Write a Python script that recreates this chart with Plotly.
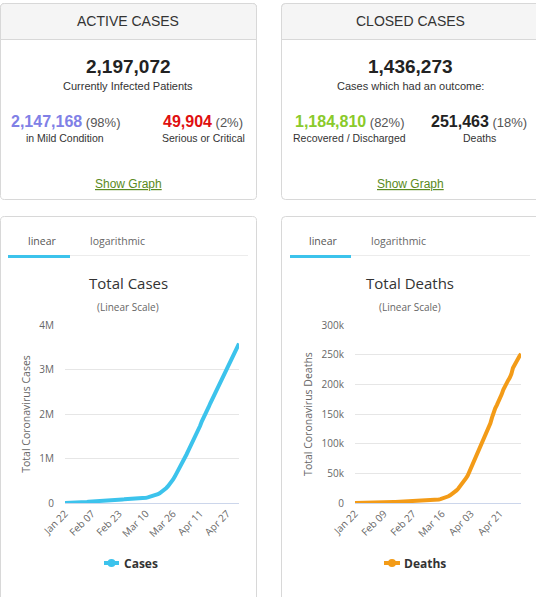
import pandas as pd
import plotly.graph_objects as go

W, H = 536, 597

# ---------------- data ----------------
dates = pd.date_range("2020-01-22", "2020-05-04", freq="D")

total_cases = [
    580, 845, 1317, 2015, 2800, 4581, 6058, 7813, 9823, 11950,
    14553, 17391, 20630, 24545, 28266, 31439, 34876, 37552, 40553, 43099,
    45134, 59287, 64438, 67100, 69197, 71329, 73332, 75184, 75700, 76677,
    77673, 78651, 79205, 80087, 80828, 81820, 83112, 84615, 86604, 88585,
    90443, 93016, 95314, 98425, 102050, 106099, 109991, 114381, 118948, 126214,
    134576, 145483, 156653, 169593, 182490, 198238, 218822, 244933, 275597, 305036,
    337489, 378287, 418045, 467653, 529591, 593291, 660693, 720117, 782365, 857487,
    932605, 1013157, 1095917, 1176060, 1249754, 1321481, 1396476, 1479804, 1565278, 1657526,
    1735650, 1834721, 1904838, 1976191, 2056054, 2152437, 2240190, 2317758, 2401378, 2472259,
    2549123, 2624068, 2708885, 2811193, 2896746, 2971475, 3041764, 3116398, 3193886, 3256846,
    3343777, 3427343, 3506729, 3583055,
]

total_deaths = [
    17, 18, 26, 42, 56, 82, 131, 133, 171, 213,
    259, 362, 426, 492, 564, 634, 719, 806, 906, 1013,
    1113, 1118, 1371, 1523, 1666, 1770, 1868, 2007, 2122, 2247,
    2251, 2458, 2469, 2629, 2708, 2770, 2814, 2872, 2941, 2996,
    3085, 3160, 3254, 3348, 3460, 3558, 3802, 3988, 4262, 4615,
    4720, 5404, 5819, 6440, 7126, 7905, 8733, 9867, 11299, 12973,
    14623, 16497, 18615, 21181, 23970, 27198, 30652, 33925, 37582, 42107,
    46809, 52983, 58787, 64606, 69374, 74565, 81865, 88338, 95455, 102525,
    108502, 114090, 119482, 125984, 134177, 143800, 153821, 159509, 165044, 169985,
    176583, 183066, 190858, 197159, 202846, 206544, 211167, 217153, 227638, 233388,
    238650, 243808, 247470, 251537,
]

cases_xtick_labels = ["Jan 22", "Feb 07", "Feb 23", "Mar 10", "Mar 26", "Apr 11", "Apr 27"]
deaths_xtick_labels = ["Jan 22", "Feb 09", "Feb 27", "Mar 16", "Apr 03", "Apr 21"]
cases_ytick_vals = [0, 1_000_000, 2_000_000, 3_000_000, 4_000_000]
cases_ytick_labels = ["0", "1M", "2M", "3M", "4M"]
deaths_ytick_vals = [0, 50_000, 100_000, 150_000, 200_000, 250_000, 300_000]
deaths_ytick_labels = ["0", "50k", "100k", "150k", "200k", "250k", "300k"]

active_total = "2,197,072"
mild_count, mild_pct = "2,147,168", "(98%)"
serious_count, serious_pct = "49,904", "(2%)"
closed_total = "1,436,273"
recovered_count, recovered_pct = "1,184,810", "(82%)"
deaths_count, deaths_pct = "251,463", "(18%)"

# ---------------- style ----------------
CASES_COLOR = "#3cc3ec"
DEATHS_COLOR = "#f39b17"
MILD_COLOR = "#8080e6"
SERIOUS_COLOR = "#e01010"
RECOVERED_COLOR = "#8aca2b"
LINK_COLOR = "#5b8a22"
BORDER = "#d8d8d8"
SANS = "Liberation Sans, Arial, sans-serif"
CHART_FONT = "Open Sans, sans-serif"


def px(x):
    return x / W


def py(y):
    return 1 - y / H


fig = go.Figure()

fig.add_trace(go.Scatter(
    x=dates, y=total_cases, mode="lines", name="Cases",
    line=dict(color=CASES_COLOR, width=4), xaxis="x", yaxis="y",
    showlegend=False,
))
fig.add_trace(go.Scatter(
    x=dates, y=total_deaths, mode="lines", name="Deaths",
    line=dict(color=DEATHS_COLOR, width=4), xaxis="x2", yaxis="y2",
    showlegend=False,
))

axis_common = dict(
    showgrid=False, zeroline=False, fixedrange=True, automargin=False,
    tickfont=dict(family=CHART_FONT, size=10, color="#666"),
)

fig.update_layout(
    width=W, height=H, autosize=False,
    margin=dict(l=0, r=0, t=0, b=0, pad=0),
    paper_bgcolor="white", plot_bgcolor="white",
    font=dict(family=CHART_FONT, color="#666"),
    xaxis=dict(
        **axis_common,
        domain=[px(65), px(239)], anchor="y", type="date",
        range=[dates[0], dates[-1]],
        tickvals=list(dates[::16]), ticktext=cases_xtick_labels, tickangle=-45,
        showline=True, linecolor="#ccd6eb", linewidth=1, ticks="",
    ),
    yaxis=dict(
        **{**axis_common, "showgrid": True},
        domain=[py(503), py(325)], anchor="x",
        range=[0, 4_000_000], gridcolor="#e6e6e6",
        tickvals=cases_ytick_vals, ticktext=cases_ytick_labels,
        ticklabelstandoff=10,
        title=dict(text="Total Coronavirus Cases", standoff=6,
                   font=dict(family=CHART_FONT, size=10.5, color="#666")),
    ),
    xaxis2=dict(
        **axis_common,
        domain=[px(355), px(521)], anchor="y2", type="date",
        range=[dates[0], dates[-1]],
        tickvals=list(dates[::18]), ticktext=deaths_xtick_labels, tickangle=-45,
        showline=True, linecolor="#ccd6eb", linewidth=1, ticks="",
    ),
    yaxis2=dict(
        **{**axis_common, "showgrid": True},
        domain=[py(503), py(325)], anchor="x2",
        range=[0, 300_000], gridcolor="#e6e6e6",
        tickvals=deaths_ytick_vals, ticktext=deaths_ytick_labels,
        ticklabelstandoff=10,
        title=dict(text="Total Coronavirus Deaths", standoff=6,
                   font=dict(family=CHART_FONT, size=10.5, color="#666")),
    ),
)

shapes = []


def rrect(x0, y0, x1, y1, fill="white", line=BORDER, r=4, top_only=False):
    """Rounded rectangle given in pixel coordinates (y downward)."""
    def P(x, y):
        return f"{px(x):.6f},{py(y):.6f}"
    rb = 0 if top_only else r
    path = (f"M {P(x0 + r, y0)} L {P(x1 - r, y0)} Q {P(x1, y0)} {P(x1, y0 + r)} "
            f"L {P(x1, y1 - rb)} Q {P(x1, y1)} {P(x1 - rb, y1)} "
            f"L {P(x0 + rb, y1)} Q {P(x0, y1)} {P(x0, y1 - rb)} "
            f"L {P(x0, y0 + r)} Q {P(x0, y0)} {P(x0 + r, y0)} Z")
    shapes.append(dict(type="path", xref="paper", yref="paper", path=path,
                       fillcolor=fill, line=dict(color=line, width=1), layer="below"))


def hline(x0, x1, y, color, width):
    shapes.append(dict(type="line", xref="paper", yref="paper",
                       x0=px(x0), x1=px(x1), y0=py(y), y1=py(y),
                       line=dict(color=color, width=width), layer="below"))


# top cards
rrect(0.5, 3.5, 256.5, 199.5)
rrect(0.5, 3.5, 256.5, 39.5, fill="#f5f5f5", top_only=True)
rrect(281.5, 3.5, 545, 199.5)
rrect(281.5, 3.5, 545, 39.5, fill="#f5f5f5", top_only=True)
# bottom cards
rrect(0.5, 216.5, 256.5, 610)
rrect(281.5, 216.5, 545, 610)
# tabs
hline(8, 248, 255.5, "#ececec", 1)
hline(8, 70, 256.5, CASES_COLOR, 3)
hline(290, 530, 255.5, "#ececec", 1)
hline(290, 351, 256.5, CASES_COLOR, 3)

# legend symbols
for (lx0, lx1, ly, col) in [(104, 119, 563, CASES_COLOR), (384, 400, 563, DEATHS_COLOR)]:
    shapes.append(dict(type="line", xref="paper", yref="paper",
                       x0=px(lx0), x1=px(lx1), y0=py(ly), y1=py(ly),
                       line=dict(color=col, width=4)))
    cx = (lx0 + lx1) / 2
    shapes.append(dict(type="circle", xref="paper", yref="paper",
                       x0=px(cx - 4), x1=px(cx + 4), y0=py(ly + 4), y1=py(ly - 4),
                       fillcolor=col, line=dict(color=col, width=0)))

fig.update_layout(shapes=shapes)

annotations = []


def text(x, y, s, size, color="#333", family=SANS, xanchor="center"):
    annotations.append(dict(xref="paper", yref="paper", x=px(x), y=py(y), text=s,
                            showarrow=False, xanchor=xanchor, yanchor="middle",
                            font=dict(size=size, color=color, family=family)))


PCT = "font-size:13px;color:#555"

# Active cases card
text(128, 21, "ACTIVE CASES", 14, "#333")
text(128, 66, f"<b>{active_total}</b>", 19, "#222")
text(128, 86, "Currently Infected Patients", 11, "#333")
text(65, 121, f"<b><span style='color:{MILD_COLOR}'>{mild_count}</span></b>"
              f"<span style='{PCT}'> {mild_pct}</span>", 16, MILD_COLOR)
text(65, 138, "in Mild Condition", 10.5, "#333")
text(203, 121, f"<b><span style='color:{SERIOUS_COLOR}'>{serious_count}</span></b>"
               f"<span style='{PCT}'> {serious_pct}</span>", 16, SERIOUS_COLOR)
text(203, 138, "Serious or Critical", 10.5, "#333")
text(128, 184, "<u>Show Graph</u>", 12, LINK_COLOR)

# Closed cases card
text(410, 21, "CLOSED CASES", 14, "#333")
text(410, 66, f"<b>{closed_total}</b>", 19, "#222")
text(410, 86, "Cases which had an outcome:", 11, "#333")
text(349, 121, f"<b><span style='color:{RECOVERED_COLOR}'>{recovered_count}</span></b>"
               f"<span style='{PCT}'> {recovered_pct}</span>", 16, RECOVERED_COLOR)
text(349, 138, "Recovered / Discharged", 10.5, "#333")
text(479, 121, f"<b><span style='color:#222'>{deaths_count}</span></b>"
               f"<span style='{PCT}'> {deaths_pct}</span>", 16, "#222")
text(479, 138, "Deaths", 10.5, "#333")
text(410, 184, "<u>Show Graph</u>", 12, LINK_COLOR)

# chart headers
for cx, title in [(128, "Total Cases"), (410, "Total Deaths")]:
    text(cx, 283, title, 15, "#333", CHART_FONT)
    text(cx, 307, "(Linear Scale)", 10, "#666", CHART_FONT)
text(42, 241, "linear", 10.5, "#555", CHART_FONT)
text(117, 241, "logarithmic", 10.5, "#666", CHART_FONT)
text(323, 241, "linear", 10.5, "#555", CHART_FONT)
text(398, 241, "logarithmic", 10.5, "#666", CHART_FONT)

# legends
text(122, 563, "<b>Cases</b>", 12, "#333", CHART_FONT, xanchor="left")
text(402, 563, "<b>Deaths</b>", 12, "#333", CHART_FONT, xanchor="left")

fig.update_layout(annotations=annotations)

fig.write_html("out.html")
